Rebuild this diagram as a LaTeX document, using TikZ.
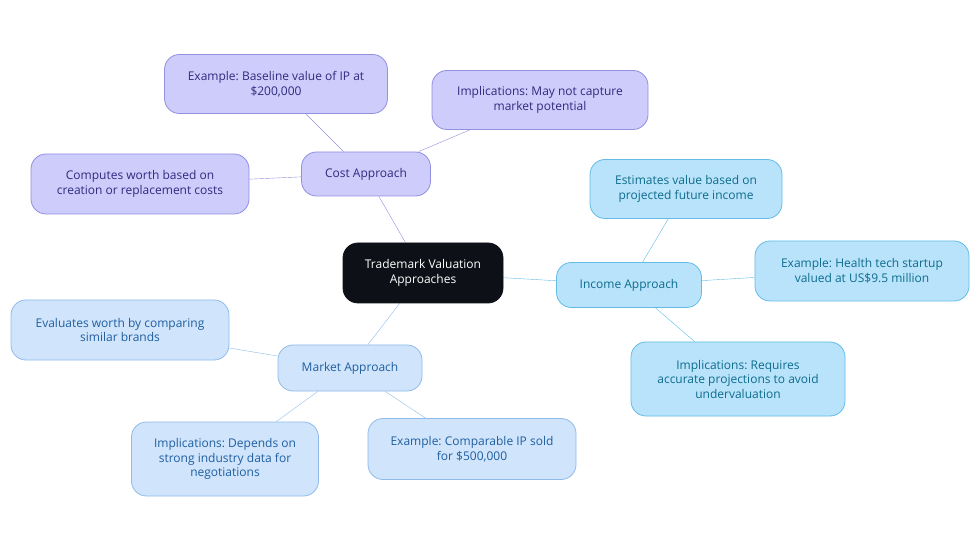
\documentclass[tikz,border=0pt]{standalone}
\usepackage{fontspec}
\setmainfont{Open Sans}
\frenchspacing
\usetikzlibrary{backgrounds}
\definecolor{rootfill}{HTML}{0D1117}
\definecolor{costfill}{HTML}{CDCCFB}
\definecolor{costline}{HTML}{9190E2}
\definecolor{costtext}{HTML}{2E2C7E}
\definecolor{incfill}{HTML}{B9E3FB}
\definecolor{incline}{HTML}{62BCE6}
\definecolor{inctext}{HTML}{0D6C8C}
\definecolor{mktfill}{HTML}{D0E4FB}
\definecolor{mktline}{HTML}{8FBBEA}
\definecolor{mkttext}{HTML}{1F5FA0}
\tikzset{
  box/.style={draw, rounded corners=15pt, align=center, inner sep=0pt,
    font=\fontsize{12}{14.5}\selectfont, line width=0.8pt},
  cost/.style={box, fill=costfill, draw=costline, text=costtext},
  inc/.style={box, fill=incfill, draw=incline, text=inctext},
  mkt/.style={box, fill=mktfill, draw=mktline, text=mkttext},
  sz/.style 2 args={minimum width=#1, minimum height=#2}
}
\begin{document}
\begin{tikzpicture}[x=1pt, y=-1pt]
  \useasboundingbox (0,0) rectangle (980,553);

  \node[box, fill=rootfill, draw=rootfill, text=white, sz={160pt}{60pt}]
    (root) at (423,273) {Trademark Valuation\\Approaches};

  \node[cost, sz={129pt}{44pt}] (cost) at (366,174) {Cost Approach};
  \node[cost, sz={223pt}{59pt}] (costex) at (276,84) {Example: Baseline value of IP at\\\$200,000};
  \node[cost, sz={216pt}{59pt}] (costimp) at (540,100) {Implications: May not capture\\market potential};
  \node[cost, sz={218pt}{60pt}] (costdef) at (140,184) {Computes worth based on\\creation or replacement costs};

  \node[inc, sz={145pt}{45pt}] (inc) at (629,285) {Income Approach};
  \node[inc, sz={192pt}{59pt}] (incdef) at (686,189) {Estimates value based on\\projected future income};
  \node[inc, sz={214pt}{60pt}] (incex) at (862,271) {Example: Health tech startup\\valued at US\$9.5 million};
  \node[inc, sz={214pt}{74pt}] (incimp) at (738,379) {Implications: Requires\\accurate projections to avoid\\undervaluation};

  \node[mkt, sz={144pt}{46pt}] (mkt) at (350,368) {Market Approach};
  \node[mkt, sz={218pt}{60pt}] (mktdef) at (120,330) {Evaluates worth by comparing\\similar brands};
  \node[mkt, sz={187pt}{74pt}] (mktimp) at (225,459) {Implications: Depends on\\strong industry data for\\negotiations};
  \node[mkt, sz={208pt}{61pt}] (mktex) at (472,449) {Example: Comparable IP sold\\for \$500,000};

  \begin{scope}[on background layer, line width=1.6pt]
    \draw[costline] (root) -- (cost);
    \draw[costline] (cost) -- (costex);
    \draw[costline] (cost) -- (costimp);
    \draw[costline] (cost) -- (costdef);
    \draw[incline] (root) -- (inc);
    \draw[incline] (inc) -- (incdef);
    \draw[incline] (inc) -- (incex);
    \draw[incline] (inc) -- (incimp);
    \draw[mktline] (root) -- (mkt);
    \draw[mktline] (mkt) -- (mktdef);
    \draw[mktline] (mkt) -- (mktimp);
    \draw[mktline] (mkt) -- (mktex);
  \end{scope}
\end{tikzpicture}
\end{document}
